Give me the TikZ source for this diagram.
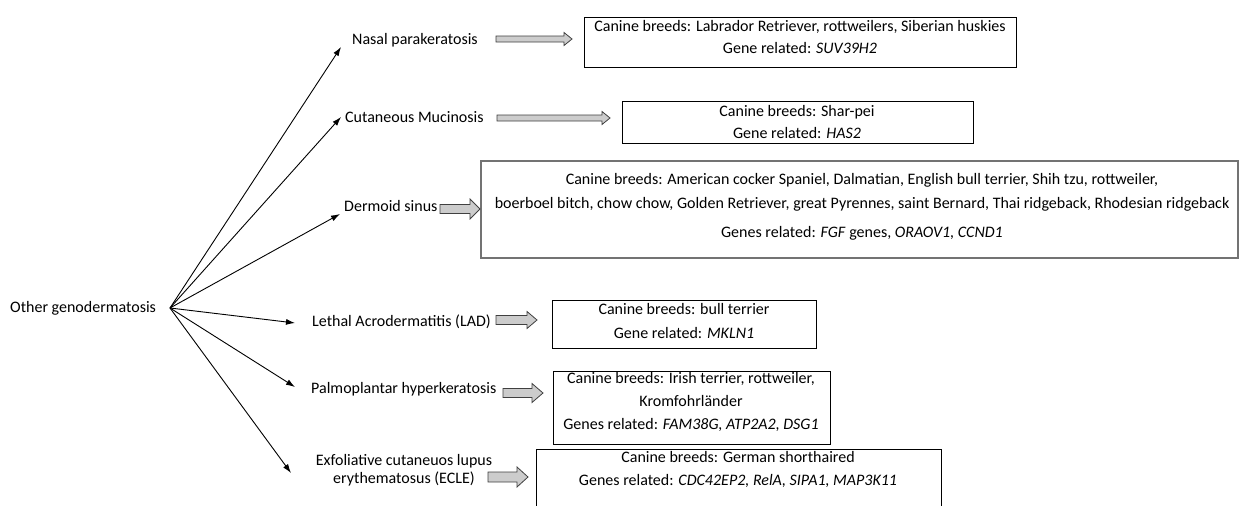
\documentclass[tikz,border=0pt]{standalone}
\usepackage{fontspec}
\setmainfont{Carlito}
\usetikzlibrary{arrows.meta,calc}
\newcommand{\fatarrow}[5]{\draw[fatarr] let \p1=(#1), \p2=(#2) in (\x1,\y1+#3pt) -- (\x2-#5pt,\y1+#3pt) -- (\x2-#5pt,\y1+#4pt) -- (\x2,\y1) -- (\x2-#5pt,\y1-#4pt) -- (\x2-#5pt,\y1-#3pt) -- (\x1,\y1-#3pt) -- cycle;}
\begin{document}
\begin{tikzpicture}[x=1pt,y=-1pt,
  every node/.style={font=\fontsize{16}{23}\selectfont, inner sep=0pt},
  lbl/.style={anchor=west, text height=11pt, text depth=3pt},
  txt/.style={align=center},
  boxst/.style={draw=black, line width=0.8pt, anchor=north west, inner sep=0pt},
  dbox/.style={draw=black!55, line width=1.8pt, anchor=north west, inner sep=0pt},
  link/.style={line width=0.9pt, -{Latex[length=9pt,width=6pt]}},
  fatarr/.style={draw=black!75, fill=black!20, line width=0.8pt, line join=miter}]
\useasboundingbox (0,0) rectangle (1240,506);
\clip (0,0) rectangle (1240,506);
\fill[white] (0,0) rectangle (1240,506);

% source
\node[lbl] (og) at (10,308) {Other genodermatosis};
\coordinate (src) at (170,308);

% disease labels
\node[lbl] (d1) at (352,40) {Nasal parakeratosis};
\node[lbl] (d2) at (345,118) {Cutaneous Mucinosis};
\node[lbl] (d3) at (344,207) {Dermoid sinus};
\node[lbl] (d4) at (312,322) {Lethal Acrodermatitis (LAD)};
\node[lbl] (d5) at (311,389) {Palmoplantar hyperkeratosis};
\node[txt, font=\fontsize{16}{18.5}\selectfont] (d6) at (404,470) {Exfoliative cutaneuos lupus\\erythematosus (ECLE)};

% arrow tips
\coordinate (t1) at (341,47);
\coordinate (t2) at (341,117);
\coordinate (t3) at (340,214);
\coordinate (t4) at (295,323);
\coordinate (t5) at (295,387);
\coordinate (t6) at (291,473);
\foreach \t in {t1,t2,t3,t4,t5,t6} \draw[link] (src) -- (\t);

% boxes
\node[boxst, minimum width=432pt, minimum height=50pt] (b1) at (584,17) {};
\node[boxst, minimum width=351pt, minimum height=42pt] (b2) at (622,101) {};
\node[dbox, minimum width=757pt, minimum height=97pt] (b3) at (480,160) {};
\node[boxst, minimum width=264pt, minimum height=48pt] (b4) at (552,300) {};
\node[boxst, minimum width=277pt, minimum height=73pt] (b5) at (553,371) {};
\node[boxst, minimum width=405pt, minimum height=75pt] (b6) at (536,449) {};

% box texts
\node[txt, font=\fontsize{16}{22}\selectfont] (c1) at (800,37.5) {Canine breeds: Labrador Retriever, rottweilers, Siberian huskies\\Gene related: \textit{SUV39H2}};
\node[txt, font=\fontsize{16}{22}\selectfont] (c2) at (797,122) {Canine breeds: Shar-pei\\Gene related: \textit{HAS2}};
\node[txt, font=\fontsize{16}{24}\selectfont] (c3) at (862,207) {Canine breeds: American cocker Spaniel, Dalmatian, English bull terrier, Shih tzu, rottweiler,\\boerboel bitch, chow chow, Golden Retriever, great Pyrennes, saint Bernard, Thai ridgeback, Rhodesian ridgeback\\[5pt]Genes related: \textit{FGF} genes, \textit{ORAOV1, CCND1}};
\node[txt, font=\fontsize{16}{24}\selectfont] (c4) at (684,321) {Canine breeds: bull terrier\\Gene related: \textit{MKLN1}};
\node[txt] (c5) at (691,402) {Canine breeds: Irish terrier, rottweiler,\\Kromfohrländer\\Genes related: \textit{FAM38G, ATP2A2, DSG1}};
\node[txt] (c6) at (738,469) {Canine breeds: German shorthaired\\Genes related: \textit{CDC42EP2, RelA, SIPA1, MAP3K11}};

% block arrows
\coordinate (a1s) at (496,39);  \coordinate (a1e) at (572,39);
\coordinate (a2s) at (497,118); \coordinate (a2e) at (610,118);
\coordinate (a3s) at (440,209); \coordinate (a3e) at (480,209);
\coordinate (a4s) at (496,320); \coordinate (a4e) at (537,320);
\coordinate (a5s) at (503,393); \coordinate (a5e) at (543,393);
\coordinate (a6s) at (488,477); \coordinate (a6e) at (528,477);
\fatarrow{a1s}{a1e}{3}{6.5}{8}
\fatarrow{a2s}{a2e}{3}{6.5}{8}
\fatarrow{a3s}{a3e}{4.5}{10}{10}
\fatarrow{a4s}{a4e}{4.5}{8.5}{10}
\fatarrow{a5s}{a5e}{4.5}{9.5}{11}
\fatarrow{a6s}{a6e}{5}{10}{11}
\end{tikzpicture}
\end{document}
